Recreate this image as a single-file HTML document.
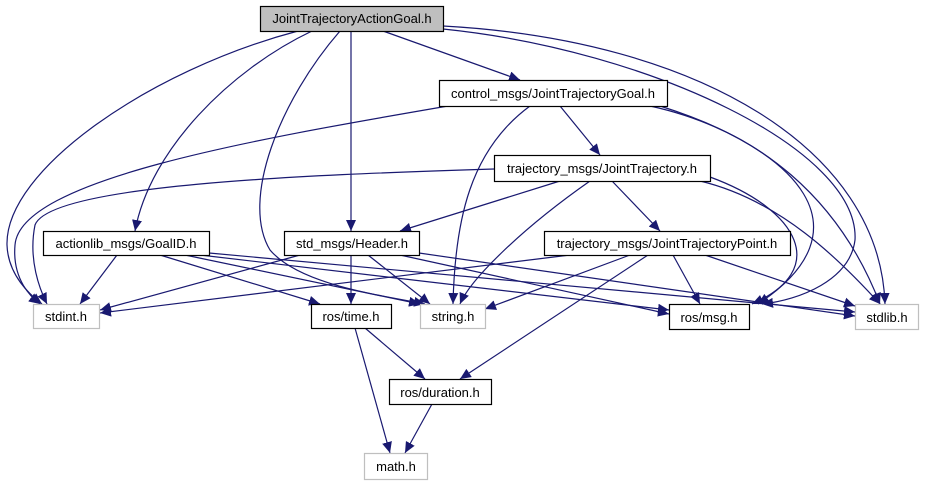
<!DOCTYPE html>
<html><head><style>body{margin:0;background:#fff}svg{display:block}text{font-family:"Liberation Sans",sans-serif;font-size:13px;fill:#000}</style></head><body>
<svg width="925" height="485" viewBox="0 0 925 485">
<defs><marker id="a" markerUnits="userSpaceOnUse" markerWidth="12" markerHeight="10" refX="11" refY="5" orient="auto"><path d="M0,0 L11,5 L0,10 z" fill="#191970"/></marker></defs>
<g fill="none" stroke="#191970" stroke-width="1.2" marker-end="url(#a)">
<path d="M298,31 C150,70 5,170 7,245 C8,275 30,295 42,304"/>
<path d="M312,31 C230,70 150,150 135,231"/>
<path d="M340,31 C280,100 240,200 270,250 C300,285 380,295 425,304"/>
<path d="M351,31 L351,231"/>
<path d="M383,31 L520,80"/>
<path d="M443,29 C650,50 860,150 855,240 C850,280 800,300 762,304"/>
<path d="M443,26 C700,40 880,150 885,304"/>
<path d="M650,106 C760,130 840,200 880,304"/>
<path d="M660,106 C800,150 870,230 758,304"/>
<path d="M448,106 C250,140 20,180 15,245 C12,280 32,298 40,304"/>
<path d="M530,106 C470,150 455,220 453,304"/>
<path d="M560,106 L600,155"/>
<path d="M494,169 C300,175 50,185 35,225 C28,260 40,290 47,304"/>
<path d="M560,181 L400,231"/>
<path d="M590,181 C520,230 470,280 460,304"/>
<path d="M612,181 L660,231"/>
<path d="M700,181 C780,200 840,260 880,304"/>
<path d="M710,177 C800,210 830,270 752,304"/>
<path d="M117,255 L80,304"/>
<path d="M160,255 L320,304"/>
<path d="M185,255 L420,304"/>
<path d="M200,255 L669,310"/>
<path d="M209,253 L855,312"/>
<path d="M300,255 L100,310"/>
<path d="M351,255 L351,304"/>
<path d="M368,255 L430,304"/>
<path d="M400,255 L669,314"/>
<path d="M419,253 L855,316"/>
<path d="M570,255 L100,313"/>
<path d="M630,255 L485,309"/>
<path d="M648,255 L460,379"/>
<path d="M673,255 L700,304"/>
<path d="M705,255 L855,306"/>
<path d="M365,328 L425,379"/>
<path d="M355,328 L390,453"/>
<path d="M432,404 L405,453"/>
</g>
<g stroke-width="1.2">
<rect x="260.5" y="6.5" width="183" height="25" fill="#bfbfbf" stroke="#000"/>
<rect x="439.5" y="80.5" width="228" height="26" fill="#fff" stroke="#000"/>
<rect x="494.5" y="155.5" width="216" height="26" fill="#fff" stroke="#000"/>
<rect x="43.5" y="231.5" width="166" height="24" fill="#fff" stroke="#000"/>
<rect x="284.5" y="231.5" width="135" height="24" fill="#fff" stroke="#000"/>
<rect x="544.5" y="231.5" width="246" height="24" fill="#fff" stroke="#000"/>
<rect x="33.5" y="304.5" width="66" height="24" fill="#fff" stroke="#bfbfbf"/>
<rect x="311.5" y="304.5" width="80" height="24" fill="#fff" stroke="#000"/>
<rect x="420.5" y="304.5" width="65" height="24" fill="#fff" stroke="#bfbfbf"/>
<rect x="669.5" y="304.5" width="80" height="25" fill="#fff" stroke="#000"/>
<rect x="855.5" y="304.5" width="63" height="25" fill="#fff" stroke="#bfbfbf"/>
<rect x="389.5" y="379.5" width="102" height="25" fill="#fff" stroke="#000"/>
<rect x="364.5" y="453.5" width="63" height="26" fill="#fff" stroke="#bfbfbf"/>
</g>
<g text-anchor="middle">
<text x="352" y="23">JointTrajectoryActionGoal.h</text>
<text x="553" y="98">control_msgs/JointTrajectoryGoal.h</text>
<text x="602" y="173">trajectory_msgs/JointTrajectory.h</text>
<text x="126" y="248">actionlib_msgs/GoalID.h</text>
<text x="352" y="248">std_msgs/Header.h</text>
<text x="667" y="248">trajectory_msgs/JointTrajectoryPoint.h</text>
<text x="66" y="321">stdint.h</text>
<text x="351" y="321">ros/time.h</text>
<text x="453" y="321">string.h</text>
<text x="709" y="322">ros/msg.h</text>
<text x="887" y="322">stdlib.h</text>
<text x="440" y="397">ros/duration.h</text>
<text x="396" y="471">math.h</text>
</g>
</svg>
</body></html>
